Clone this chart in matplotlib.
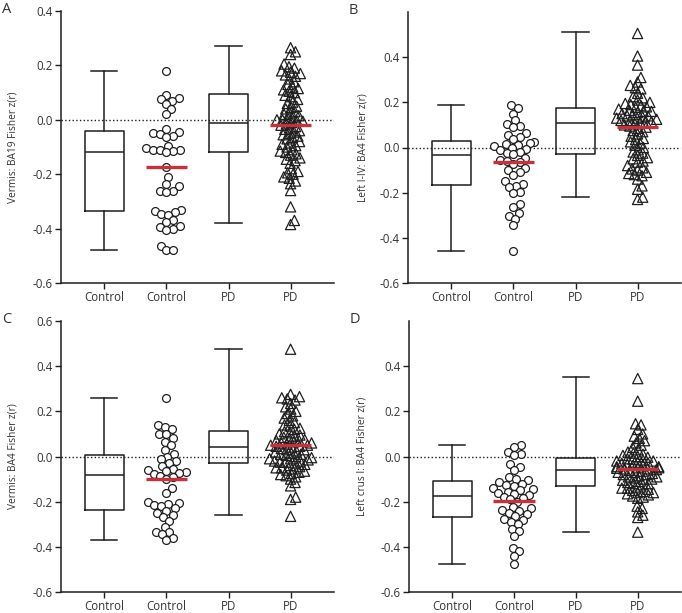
import numpy as np
import matplotlib
matplotlib.use("Agg")
import matplotlib.pyplot as plt

plt.rcParams["font.family"] = ["Open Sans", "DejaVu Sans"]
plt.rcParams["axes.unicode_minus"] = False

groups = ["Control", "Control", "PD", "PD"]

# Panel A - Vermis: BA19
a_ctrl = [0.178, 0.09, 0.08, 0.075, 0.07, 0.058, 0.04, 0.02, -0.032, -0.045,
          -0.05, -0.052, -0.06, -0.065, -0.095, -0.105, -0.11, -0.11, -0.112,
          -0.115, -0.12, -0.175, -0.21, -0.235, -0.245, -0.26, -0.262, -0.265,
          -0.33, -0.335, -0.34, -0.345, -0.35, -0.37, -0.375, -0.39, -0.395,
          -0.40, -0.405, -0.465, -0.48, -0.48]
a_pd = [0.265, 0.25, 0.24, 0.205, 0.195, 0.19, 0.18, 0.175, 0.17, 0.165, 0.16,
        0.15, 0.14, 0.13, 0.12, 0.115, 0.11, 0.105, 0.10,
        0.09, 0.085, 0.075, 0.065, 0.06, 0.05, 0.045, 0.04, 0.03, 0.025, 0.02,
        0.015, 0.01, 0.005, 0.0, 0.0, -0.005, -0.005, -0.01,
        -0.015, -0.02, -0.025, -0.03, -0.035, -0.04, -0.045, -0.05, -0.055,
        -0.06, -0.065, -0.07, -0.08, -0.085, -0.09, -0.095, -0.10, -0.11, -0.115,
        -0.12, -0.125, -0.13, -0.14, -0.145, -0.15, -0.16, -0.18, -0.19, -0.195,
        -0.20, -0.21, -0.215, -0.225, -0.235, -0.26, -0.32, -0.37, -0.385]
a_box = [(-0.48, -0.335, -0.12, -0.04, 0.18), (-0.38, -0.12, -0.01, 0.095, 0.27)]
a_center = [-0.175, -0.02]

# Panel B - Left I-IV: BA4
b_ctrl = [0.19, 0.175, 0.15, 0.12, 0.105, 0.095, 0.09, 0.065, 0.055, 0.045, 0.038,
          0.025, 0.02, 0.015, 0.01, 0.005, 0.0, -0.005, -0.01, -0.02, -0.025, -0.03,
          -0.045, -0.055, -0.06, -0.065, -0.075, -0.09, -0.10, -0.11, -0.12, -0.15,
          -0.16, -0.17, -0.175, -0.195, -0.20, -0.25, -0.265, -0.29, -0.305,
          -0.315, -0.345, -0.46]
b_pd = [0.505, 0.405, 0.365, 0.31, 0.29, 0.275, 0.265, 0.26, 0.24, 0.225, 0.22,
        0.21, 0.20, 0.195, 0.19, 0.185, 0.18, 0.178,
        0.17, 0.165, 0.16, 0.16, 0.155, 0.15, 0.145, 0.14, 0.14, 0.135, 0.13,
        0.13, 0.125, 0.12, 0.12, 0.115, 0.115, 0.11,
        0.105, 0.10, 0.095, 0.09, 0.085, 0.075, 0.07, 0.06, 0.05, 0.04, 0.035,
        0.025, 0.02, 0.01, 0.0, -0.01, -0.02, -0.025,
        -0.035, -0.045, -0.05, -0.06, -0.065, -0.08, -0.09, -0.095, -0.10, -0.11,
        -0.115, -0.12, -0.125, -0.14, -0.17, -0.185, -0.22, -0.23]
b_box = [(-0.46, -0.165, -0.035, 0.03, 0.19), (-0.22, -0.03, 0.11, 0.175, 0.51)]
b_center = [-0.065, 0.09]

# Panel C - Vermis: BA4
c_ctrl = [0.26, 0.14, 0.13, 0.12, 0.10, 0.10, 0.08, 0.065, 0.05, 0.03, 0.01,
          0.0, -0.01, -0.02, -0.03, -0.04, -0.055, -0.06, -0.065, -0.07, -0.075,
          -0.078, -0.085, -0.09, -0.10, -0.14, -0.16, -0.20, -0.205, -0.21,
          -0.215, -0.22, -0.23, -0.24, -0.25, -0.26, -0.27, -0.285, -0.31,
          -0.335, -0.335, -0.345, -0.36, -0.37]
c_pd = [0.475, 0.275, 0.265, 0.26, 0.255, 0.25, 0.235, 0.22, 0.21, 0.20, 0.19,
        0.18, 0.17, 0.16, 0.15, 0.14, 0.135, 0.125, 0.12,
        0.11, 0.105, 0.10, 0.095, 0.09, 0.085, 0.08, 0.075, 0.07, 0.07, 0.065,
        0.06, 0.06, 0.055, 0.05, 0.05, 0.045, 0.045, 0.042,
        0.035, 0.03, 0.03, 0.025, 0.02, 0.015, 0.01, 0.01, 0.005, 0.0, -0.005,
        -0.01, -0.01, -0.015, -0.02, -0.02, -0.025, -0.025, -0.028,
        -0.035, -0.04, -0.045, -0.05, -0.05, -0.055, -0.06, -0.065, -0.07,
        -0.075, -0.08, -0.085, -0.09, -0.10, -0.115, -0.13, -0.18, -0.19, -0.265]
c_box = [(-0.37, -0.235, -0.08, 0.005, 0.26), (-0.26, -0.03, 0.04, 0.115, 0.475)]
c_center = [-0.10, 0.05]

# Panel D - Left crus I: BA4
d_ctrl = [0.05, 0.04, 0.02, 0.01, 0.005, -0.035, -0.045, -0.06, -0.09, -0.10,
          -0.105, -0.115, -0.12, -0.125, -0.13, -0.14, -0.145, -0.15, -0.155,
          -0.16, -0.165, -0.17, -0.18, -0.185, -0.19, -0.20, -0.225, -0.23,
          -0.235, -0.24, -0.25, -0.255, -0.265, -0.275, -0.28, -0.29, -0.30,
          -0.32, -0.33, -0.35, -0.405, -0.42, -0.44, -0.475]
d_pd = [0.345, 0.245, 0.145, 0.14, 0.12, 0.10, 0.09, 0.08, 0.07, 0.06, 0.05,
        0.04, 0.03, 0.02, 0.015, 0.01, 0.005, 0.0, -0.003,
        -0.01, -0.012, -0.015, -0.02, -0.02, -0.025, -0.03, -0.03, -0.035, -0.04,
        -0.04, -0.045, -0.045, -0.05, -0.05, -0.052, -0.055, -0.055, -0.058,
        -0.062, -0.065, -0.07, -0.07, -0.075, -0.08, -0.08, -0.085, -0.09, -0.09,
        -0.095, -0.10, -0.10, -0.105, -0.11, -0.115, -0.12, -0.12, -0.125,
        -0.135, -0.14, -0.14, -0.145, -0.15, -0.155, -0.16, -0.16, -0.165, -0.17,
        -0.175, -0.18, -0.185, -0.22, -0.23, -0.245, -0.26, -0.27, -0.335]
d_box = [(-0.475, -0.27, -0.175, -0.11, 0.05), (-0.335, -0.13, -0.06, -0.005, 0.35)]
d_center = [-0.195, -0.055]

RED = "#c9303a"
INK = "#1e1e1e"
TXT = "#333333"
W, H = 682, 613


def swarm_x(ax, x0, vals, d, max_off):
    """Simple beeswarm: pixel offsets so markers roughly don't overlap."""
    tr = ax.transData
    pts = tr.transform(np.column_stack([np.full(len(vals), x0), vals]))
    px0, py = pts[0, 0], pts[:, 1]
    placed = []
    xs = np.zeros(len(vals))
    for i in np.argsort(py):
        y = py[i]
        cands = [0.0]
        for qx, qy in placed:
            dy = abs(qy - y)
            if dy < d:
                dx = np.sqrt(d * d - dy * dy)
                cands += [qx + dx, qx - dx]
        cands.sort(key=abs)
        best = cands[0]
        for c in cands:
            if all((c - qx) ** 2 + (y - qy) ** 2 >= d * d - 1e-6 for qx, qy in placed):
                best = c
                break
        best = float(np.clip(best, -max_off, max_off))
        placed.append((best, y))
        xs[i] = best
    return tr.inverted().transform(np.column_stack([px0 + xs, py]))[:, 0]


def draw_panel(rect, letter, ctrl, pd, box, center, ylabel, top, yticks, label_x):
    l, b, r, t = rect
    ax = fig.add_axes([l / W, 1 - b / H, (r - l) / W, (b - t) / H])
    ax.set_xlim(0.3, 4.7)
    ax.set_ylim(-0.6, top)

    stats = []
    for lo, q1, med, q3, hi in box:
        stats.append(dict(whislo=lo, q1=q1, med=med, q3=q3, whishi=hi, fliers=[]))
    lp = dict(color=INK, linewidth=1.1)
    ax.bxp(stats, positions=[1, 3], widths=0.63, capwidths=0.42, showfliers=False,
           boxprops=lp, whiskerprops=lp, capprops=lp, medianprops=lp)

    ax.axhline(0, color=INK, linestyle=":", linewidth=1.0, zorder=1)

    xc = swarm_x(ax, 2, ctrl, 7.0, 21)
    ax.scatter(xc, ctrl, s=32, marker="o", facecolors="white", edgecolors=INK,
               linewidths=0.9, zorder=3)
    xp = swarm_x(ax, 4, pd, 5.6, 21)
    ax.scatter(xp, pd, s=54, marker="^", facecolors="none", edgecolors=INK,
               linewidths=0.9, zorder=3)

    ax.hlines(center, [1.665, 3.665], [2.335, 4.335], color=RED, linewidth=2.4, zorder=4)

    ax.set_xticks([1, 2, 3, 4])
    ax.set_xticklabels(groups)
    ax.set_yticks(yticks)
    ax.set_yticklabels([f"{v:.1f}" for v in yticks])
    ax.tick_params(colors=INK, labelcolor=TXT, labelsize=8.3, length=4, width=1.0, pad=2)
    for side in ["top", "right"]:
        ax.spines[side].set_visible(False)
    for side in ["left", "bottom"]:
        ax.spines[side].set_color(INK)
        ax.spines[side].set_linewidth(1.1)
    ax.set_ylabel(ylabel, fontsize=7.3, color=TXT)
    ax.yaxis.set_label_coords(label_x, 0.5)

    fig.text((l - 59) / W, 1 - (t - 9) / H, letter, fontsize=10.5, color=TXT,
             ha="left", va="top")
    return ax


fig = plt.figure(figsize=(W / 100, H / 100), dpi=100)

ticks_a = np.round(np.arange(-0.6, 0.41, 0.2), 1)
ticks_c = np.round(np.arange(-0.6, 0.61, 0.2), 1)

draw_panel((61, 283, 334, 11), "A", a_ctrl, a_pd, a_box, a_center,
           "Vermis: BA19 Fisher z(r)", 0.4, ticks_a, -0.157)
draw_panel((408, 283, 681, 12), "B", b_ctrl, b_pd, b_box, b_center,
           "Left I-IV: BA4 Fisher z(r)", 0.6, ticks_a, -0.143)
draw_panel((61, 592, 334, 321), "C", c_ctrl, c_pd, c_box, c_center,
           "Vermis: BA4 Fisher z(r)", 0.6, ticks_c, -0.157)
draw_panel((409, 592, 681, 321), "D", d_ctrl, d_pd, d_box, d_center,
           "Left crus I: BA4 Fisher z(r)", 0.6, ticks_a, -0.151)

fig.savefig("out.png", dpi=100)
